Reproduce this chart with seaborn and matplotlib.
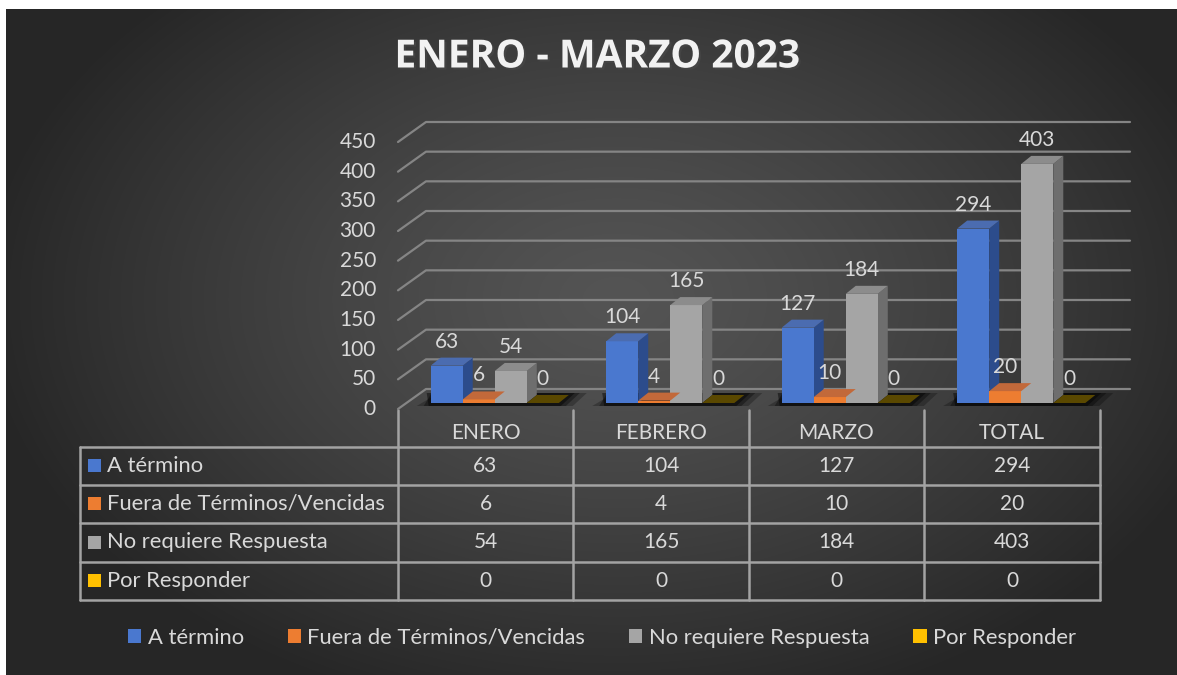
import numpy as np
import pandas as pd
import matplotlib
matplotlib.use("Agg")
import matplotlib.pyplot as plt
from matplotlib.patches import Polygon, Patch
import matplotlib.patheffects as pe
import seaborn as sns

# %% data
months = ["ENERO", "FEBRERO", "MARZO", "TOTAL"]
series = ["A término", "Fuera de Términos/Vencidas", "No requiere Respuesta", "Por Responder"]
a_termino = [63, 104, 127, 294]
fuera_terminos = [6, 4, 10, 20]
no_requiere = [54, 165, 184, 403]
por_responder = [0, 0, 0, 0]
y_ticks = list(range(0, 451, 50))
title = "ENERO - MARZO 2023"

values = [a_termino, fuera_terminos, no_requiere, por_responder]
df = pd.DataFrame(
    [(m, s, v) for s, vals in zip(series, values) for m, v in zip(months, vals)],
    columns=["mes", "serie", "valor"],
)

# front / side / top colours for the fake 3D bars
front = ["#4a78cf", "#ed7d31", "#a5a5a5", "#ffc000"]
side = ["#2c4c8c", "#b35a1f", "#6e6e6e", "#a07800"]
top = ["#4b6cb0", "#c2693a", "#8c8c8c", "#5a4800"]
txt = "#d9d9d9"
line_c = "#a3a3a3"
fs_num = 15
fs_lab = 15.8

W, H = 1177, 675
sns.set_theme(style="white")
plt.rcParams["font.family"] = ["Lato", "DejaVu Sans"]
fig = plt.figure(figsize=(W / 100, H / 100), dpi=100, facecolor="white")

# %% background panel with radial gradient
ax_bg = fig.add_axes([6 / W, 0, 1 - 6 / W, (H - 9) / H])
yy, xx = np.mgrid[0:H - 9, 0:W - 6]
d = np.sqrt(((xx - 610) / 640.0) ** 2 + ((yy - 290) / 430.0) ** 2)
g = 0x54 - (0x54 - 0x26) * np.clip(d, 0, 1) ** 1.3
ax_bg.imshow(np.dstack([g, g, g]) / 255.0, aspect="auto", interpolation="bilinear")
ax_bg.axis("off")
ax_bg.set_zorder(-10)

# %% overlay in pixel coordinates for table / title
ax_t = fig.add_axes([0, 0, 1, 1])
ax_t.set_xlim(0, W)
ax_t.set_ylim(H, 0)
ax_t.axis("off")
ax_t.patch.set_alpha(0)
ax_t.set_zorder(1)

# %% main bar axes
x0, x1, yb, yt = 398, 1100, 409, 142
ax = fig.add_axes([x0 / W, (H - yb) / H, (x1 - x0) / W, (yb - yt) / H])
ax.set_zorder(2)
ax.patch.set_alpha(0)
sns.barplot(data=df, x="mes", y="valor", hue="serie", hue_order=series,
            palette=front, width=0.73, saturation=1, ax=ax, legend=False,
            edgecolor="none", errorbar=None)
ax.set_xlim(-0.5, 3.5)
ax.set_ylim(0, 450)
ax.axis("off")

kx = 4.0 / (x1 - x0)      # data units per pixel
ky = 450.0 / (yb - yt)

# back-wall gridlines with a diagonal run at the left
for v in y_ticks:
    bx = -0.5 + 28 * kx
    by = v + 20 * ky
    ax.plot([-0.5, bx, -0.5 + (1130 - x0) * kx], [v, by, by],
            color="#858585", lw=1.6, clip_on=False, zorder=0)
    ax.text(-0.5 - 22 * kx, v, str(v), ha="right", va="center",
            color=txt, fontsize=fs_num, clip_on=False)

base = 6 * ky
shift = 9 * kx
ddx, ddy = 10 * kx, 8 * ky

# floor shadows below each group
for i in range(len(months)):
    c0 = i - 0.73 / 2 + shift
    c1 = i + 0.73 / 2 + shift
    for grow, alpha in [(14, 0.25), (7, 0.35), (2, 0.45)]:
        poly = [(c0 - grow * kx, base - 3 * ky), (c1 + grow * kx, base - 3 * ky),
                (c1 + (grow + 14) * kx, base + 10 * ky), (c0 + (grow - 6) * kx, base + 10 * ky)]
        ax.add_patch(Polygon(poly, closed=True, facecolor="black", alpha=alpha,
                             edgecolor="none", zorder=1, clip_on=False))

for k, cont in enumerate(ax.containers):
    for bar, v in zip(cont.patches, values[k]):
        bar.set_x(bar.get_x() + shift)
        bar.set_y(base)
        bar.set_zorder(3)
        bar.set_clip_on(False)
        bx0 = bar.get_x()
        bx1 = bx0 + bar.get_width()
        ytop = base + v
        ax.add_patch(Polygon([(bx1, base), (bx1, ytop), (bx1 + ddx, ytop + ddy), (bx1 + ddx, base + ddy)],
                             facecolor=side[k], edgecolor="none", zorder=2, clip_on=False))
        ax.add_patch(Polygon([(bx0, ytop), (bx1, ytop), (bx1 + ddx, ytop + ddy), (bx0 + ddx, ytop + ddy)],
                             facecolor=top[k], edgecolor="none", zorder=3, clip_on=False))
        ax.text((bx0 + bx1) / 2, ytop + 24 * ky, str(v), ha="center", va="center",
                color=txt, fontsize=fs_num, clip_on=False, zorder=5)

# %% data table
col_x = [398, 573, 749, 924, 1100]
row_y = [447, 485, 523, 562, 600]
lw = 1.8
for y in row_y:
    ax_t.plot([80, 1100], [y, y], color=line_c, lw=lw)
ax_t.plot([80, 80], [447, 600], color=line_c, lw=lw)
for x in col_x:
    ax_t.plot([x, x], [410, 600], color=line_c, lw=lw)

for j, m in enumerate(months):
    cx = (col_x[j] + col_x[j + 1]) / 2
    ax_t.text(cx, 433, m, ha="center", va="center", color=txt, fontsize=fs_num)
for i, s in enumerate(series):
    cy = (row_y[i] + row_y[i + 1]) / 2
    ax_t.add_patch(Polygon([(88, cy - 7), (101, cy - 7), (101, cy + 6), (88, cy + 6)],
                           facecolor=front[i], edgecolor="none"))
    ax_t.text(107, cy, s, ha="left", va="center", color=txt, fontsize=fs_lab)
    for j in range(len(months)):
        cx = (col_x[j] + col_x[j + 1]) / 2
        ax_t.text(cx, cy, str(values[i][j]), ha="center", va="center", color=txt, fontsize=fs_num)

# %% title
fig.text(597 / W, 1 - 57 / H, title, ha="center", va="center", color="#f2f2f2",
         fontsize=28, fontweight="bold", family=["Open Sans", "DejaVu Sans"],
         path_effects=[pe.withSimplePatchShadow(offset=(1.5, -1.5), alpha=0.6)])

# %% legend
handles = [Patch(facecolor=c, edgecolor="none") for c in front]
fig.legend(handles, series, loc="center", bbox_to_anchor=(602 / W, 1 - 638 / H), ncol=4,
           frameon=False, fontsize=fs_lab, labelcolor=txt, handlelength=0.6, handleheight=0.6,
           handletextpad=0.3, columnspacing=2.0)

fig.savefig("out.png", dpi=100, facecolor="white")
